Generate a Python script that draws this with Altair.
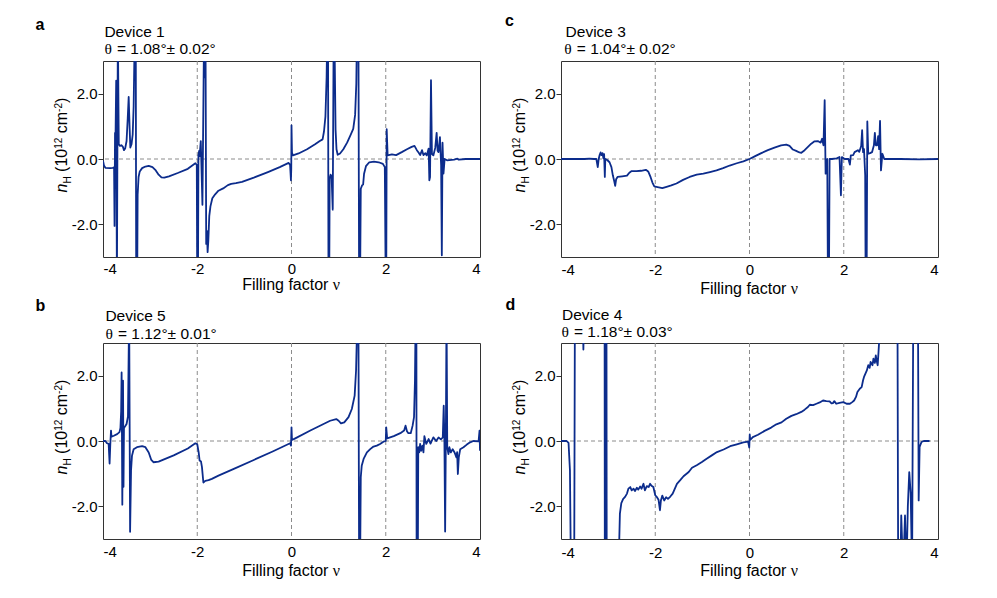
import altair as alt
import pandas as pd

# ---------------- data (filling factor v, n_H in 1e12 cm^-2) ----------------
# values beyond +/-3 run off the clipped plot area
DEVICE1 = [
    (-4.00, -0.05), (-3.98, -0.20), (-3.95, -0.27), (-3.85, -0.28), (-3.79, -0.27),
    (-3.765, -0.25), (-3.755, -2.05), (-3.745, 0.80), (-3.735, 0.55), (-3.72, 2.40),
    (-3.705, -4.0), (-3.685, 4.0), (-3.665, 0.45), (-3.64, 0.40), (-3.61, 0.42),
    (-3.58, 0.38), (-3.555, 0.27), (-3.53, 0.32), (-3.50, 0.55), (-3.475, 1.25),
    (-3.455, 1.90), (-3.435, 0.95), (-3.42, 0.35), (-3.395, 0.45), (-3.37, 0.75),
    (-3.35, 1.6), (-3.325, 4.0), (-3.305, 4.0), (-3.295, -4.0), (-3.275, -4.0),
    (-3.265, -1.10), (-3.245, -0.55), (-3.22, -0.38), (-3.17, -0.28), (-3.10, -0.23),
    (-3.03, -0.21), (-2.95, -0.25), (-2.88, -0.35), (-2.82, -0.48), (-2.76, -0.56),
    (-2.70, -0.57), (-2.60, -0.53), (-2.40, -0.42), (-2.20, -0.30), (-2.04, -0.13),
    (-2.01, -0.18), (-2.00, -4.0), (-1.985, -4.0), (-1.975, 0.10), (-1.96, 0.25),
    (-1.95, 0.08), (-1.925, 0.55), (-1.89, -1.40), (-1.855, 4.0), (-1.84, 2.5),
    (-1.825, 4.0), (-1.81, -2.60), (-1.795, -2.20), (-1.78, -2.85), (-1.765, -2.50),
    (-1.745, -1.75), (-1.72, -1.45), (-1.68, -1.20), (-1.62, -1.08), (-1.55, -0.97),
    (-1.45, -0.90), (-1.35, -0.80), (-1.28, -0.76), (-1.18, -0.74), (-1.05, -0.70),
    (-0.80, -0.57), (-0.50, -0.40), (-0.25, -0.25), (-0.06, -0.12), (-0.03, -0.18),
    (-0.012, -0.65), (-0.005, -0.30), (0.0, 1.03), (0.01, 0.20), (0.03, 0.11),
    (0.15, 0.17), (0.33, 0.30), (0.50, 0.45), (0.60, 0.55), (0.66, 0.60),
    (0.69, 0.85), (0.72, 1.30), (0.745, 2.5), (0.76, 4.0), (0.775, 4.0),
    (0.785, -4.0), (0.80, -4.0), (0.81, -0.60), (0.83, -0.48), (0.85, -0.52),
    (0.875, -1.55), (0.895, 4.0), (0.91, 4.0), (0.935, 0.9), (0.955, 0.30),
    (0.98, 0.13), (1.03, 0.17), (1.10, 0.30), (1.18, 0.50), (1.25, 0.72),
    (1.31, 0.92), (1.35, 1.35), (1.375, 2.3), (1.39, 4.0), (1.42, 4.0),
    (1.435, -4.0), (1.455, -4.0), (1.47, -0.91), (1.50, -0.80), (1.52, -0.78),
    (1.54, -0.45), (1.58, -0.22), (1.65, -0.10), (1.75, -0.08), (1.85, -0.10),
    (1.94, -0.15), (1.98, -0.25), (2.00, -4.0), (2.01, -4.0), (2.02, 0.91),
    (2.04, 0.11), (2.13, 0.14), (2.22, 0.12), (2.34, 0.21), (2.45, 0.30),
    (2.55, 0.37), (2.61, 0.40), (2.66, 0.27), (2.70, 0.19), (2.73, 0.12),
    (2.77, 0.27), (2.80, 0.12), (2.84, 0.18), (2.87, 0.11), (2.91, 0.32),
    (2.925, -0.65), (2.94, -0.55), (2.96, 2.41), (2.98, 0.15), (3.01, 0.11),
    (3.05, 0.34), (3.08, 0.80), (3.10, 0.25), (3.12, 0.21), (3.15, 0.67),
    (3.175, -0.19), (3.19, -2.95), (3.205, 0.50), (3.225, -0.45), (3.25, 0.0),
    (3.30, -0.04), (3.45, -0.02), (3.52, 0.01), (3.55, -0.02), (3.70, 0.0),
    (4.00, 0.0),
]

DEVICE3 = [
    (-4.0, 0.0), (-3.5, 0.0), (-3.40, 0.01), (-3.30, 0.0), (-3.25, 0.0),
    (-3.22, -0.25), (-3.20, 0.0), (-3.18, 0.12), (-3.16, 0.20), (-3.14, 0.12),
    (-3.12, 0.18), (-3.10, 0.02), (-3.085, 0.15), (-3.07, -0.55), (-3.06, 0.0),
    (-3.02, -0.03), (-2.97, -0.10), (-2.93, -0.25), (-2.90, -0.50), (-2.87, -0.68),
    (-2.85, -0.82), (-2.83, -0.62), (-2.80, -0.55), (-2.70, -0.53), (-2.60, -0.51),
    (-2.55, -0.42), (-2.50, -0.37), (-2.40, -0.37), (-2.30, -0.36), (-2.20, -0.33),
    (-2.15, -0.38), (-2.10, -0.55), (-2.06, -0.72), (-2.02, -0.84), (-1.95, -0.86),
    (-1.85, -0.89), (-1.76, -0.85), (-1.66, -0.81), (-1.55, -0.75), (-1.41, -0.64),
    (-1.27, -0.55), (-1.12, -0.48), (-0.98, -0.45), (-0.84, -0.40), (-0.70, -0.35),
    (-0.56, -0.28), (-0.42, -0.20), (-0.27, -0.13), (-0.13, -0.07), (0.0, 0.0),
    (0.11, 0.08), (0.25, 0.18), (0.39, 0.27), (0.53, 0.35), (0.67, 0.42),
    (0.78, 0.44), (0.85, 0.40), (0.92, 0.29), (0.99, 0.25), (1.06, 0.20),
    (1.10, 0.19), (1.17, 0.27), (1.24, 0.37), (1.31, 0.47), (1.38, 0.54),
    (1.45, 0.55), (1.51, 0.50), (1.54, 0.62), (1.57, 0.42), (1.595, 1.80),
    (1.615, -0.45), (1.63, -0.04), (1.65, 0.0), (1.665, -4.0), (1.685, -4.0),
    (1.70, 0.0), (1.75, 0.0), (1.85, 0.02), (1.91, 0.06), (1.94, -1.11),
    (1.96, 0.06), (2.02, 0.0), (2.10, 0.0), (2.13, -0.17), (2.15, 0.11),
    (2.20, 0.12), (2.23, 0.21), (2.30, 0.27), (2.33, 0.22), (2.37, 0.40),
    (2.39, 0.88), (2.41, 0.21), (2.43, 0.30), (2.455, -0.50), (2.465, -4.0),
    (2.485, -4.0), (2.50, 1.15), (2.52, 0.16), (2.56, 0.18), (2.60, 0.21),
    (2.64, 0.42), (2.66, 0.80), (2.68, 0.42), (2.71, 0.42), (2.73, 0.70),
    (2.75, 0.30), (2.77, 1.17), (2.79, -0.35), (2.82, 0.16), (2.86, 0.0),
    (3.2, 0.0), (3.6, -0.01), (4.0, 0.0),
]

DEVICE5 = [
    (-4.00, 0.0), (-3.95, 0.0), (-3.915, -0.07), (-3.88, -0.09), (-3.86, -0.69),
    (-3.845, -0.10), (-3.83, 0.32), (-3.82, 0.13), (-3.77, 0.16), (-3.70, 0.21),
    (-3.65, 0.27), (-3.63, 0.40), (-3.615, 0.9), (-3.605, 2.10), (-3.59, -1.95),
    (-3.575, 1.85), (-3.565, -1.40), (-3.555, 0.40), (-3.53, 0.45), (-3.50, 0.52),
    (-3.47, 0.75), (-3.445, 4.0), (-3.425, -2.78), (-3.405, -0.9), (-3.385, -0.45),
    (-3.35, -0.25), (-3.28, -0.19), (-3.17, -0.16), (-3.10, -0.19), (-3.03, -0.35),
    (-2.975, -0.58), (-2.93, -0.65), (-2.82, -0.63), (-2.50, -0.44), (-2.20, -0.23),
    (-2.04, -0.07), (-2.00, -0.10), (-1.97, -0.35), (-1.95, -0.60), (-1.92, -0.63),
    (-1.90, -0.80), (-1.87, -1.27), (-1.83, -1.22), (-1.76, -1.20), (-1.69, -1.16),
    (-1.55, -1.06), (-1.20, -0.84), (-0.80, -0.58), (-0.40, -0.32), (-0.03, -0.07),
    (-0.01, -0.14), (0.0, 0.42), (0.01, 0.03), (0.08, 0.08), (0.40, 0.32),
    (0.82, 0.62), (0.95, 0.67), (1.00, 0.62), (1.05, 0.54), (1.12, 0.57),
    (1.21, 0.73), (1.28, 0.98), (1.34, 1.39), (1.37, 2.16), (1.40, 4.0),
    (1.42, 4.0), (1.435, -4.0), (1.455, -4.0), (1.47, -1.11), (1.49, -0.76),
    (1.53, -0.55), (1.60, -0.35), (1.67, -0.25), (1.74, -0.17), (1.81, -0.14),
    (1.88, -0.09), (1.95, -0.02), (2.00, 0.0), (2.01, 0.42), (2.03, 0.08),
    (2.17, 0.15), (2.31, 0.24), (2.39, 0.32), (2.42, 0.47), (2.45, 0.30),
    (2.48, 0.24), (2.53, 0.24), (2.57, 0.47), (2.60, 0.73), (2.62, 1.85),
    (2.635, 4.0), (2.65, 4.0), (2.655, -4.0), (2.68, -4.0), (2.69, -0.19),
    (2.71, -0.35), (2.73, -0.09), (2.75, -0.30), (2.78, -0.14), (2.80, -0.35),
    (2.82, 0.15), (2.86, -0.09), (2.91, 0.06), (2.95, -0.08), (3.01, 0.11),
    (3.07, 0.0), (3.12, 0.11), (3.17, 0.05), (3.21, 0.11), (3.23, 1.08),
    (3.245, 0.0), (3.26, -2.77), (3.275, 0.0), (3.29, 4.0), (3.305, -0.19),
    (3.33, -0.40), (3.35, -0.19), (3.38, -0.35), (3.42, -0.25), (3.46, -0.35),
    (3.50, -0.50), (3.515, -0.34), (3.53, -1.01), (3.55, -0.50), (3.58, -0.25),
    (3.65, -0.19), (3.72, -0.11), (3.79, -0.04), (3.86, 0.0), (3.97, -0.01),
    (3.99, 0.32), (4.00, -0.30),
]

DEVICE4 = [
    (-4.00, 0.0), (-3.88, 0.0), (-3.84, -0.06), (-3.81, -0.90), (-3.79, -4.0),
    (-3.72, -4.0), (-3.705, 4.0), (-3.54, 4.0), (-3.525, 2.80), (-3.51, 4.0),
    (-3.075, 4.0), (-3.07, -4.0), (-3.065, 4.0), (-3.06, -4.0), (-3.055, 4.0),
    (-3.05, -4.0), (-3.045, 4.0), (-3.04, -4.0), (-3.035, 4.0), (-3.03, -4.0),
    (-2.78, -4.0), (-2.75, -2.22), (-2.72, -1.90), (-2.68, -1.77), (-2.64, -1.71),
    (-2.60, -1.61), (-2.57, -1.46), (-2.53, -1.41), (-2.50, -1.51), (-2.46, -1.46),
    (-2.43, -1.53), (-2.39, -1.43), (-2.36, -1.49), (-2.32, -1.39), (-2.29, -1.46),
    (-2.25, -1.31), (-2.22, -1.51), (-2.18, -1.38), (-2.14, -1.41), (-2.11, -1.31),
    (-2.08, -1.37), (-2.04, -1.41), (-2.00, -1.66), (-1.97, -1.71), (-1.93, -1.80),
    (-1.90, -2.12), (-1.88, -1.82), (-1.85, -1.67), (-1.81, -1.82), (-1.77, -1.72),
    (-1.73, -1.77), (-1.68, -1.70), (-1.63, -1.61), (-1.60, -1.51), (-1.54, -1.31),
    (-1.47, -1.20), (-1.40, -1.08), (-1.29, -0.95), (-1.22, -0.82), (-1.12, -0.74),
    (-1.01, -0.64), (-0.91, -0.54), (-0.80, -0.44), (-0.69, -0.34), (-0.55, -0.26),
    (-0.41, -0.16), (-0.27, -0.10), (-0.13, -0.04), (-0.03, -0.02), (-0.005, -0.20),
    (0.005, 0.20), (0.015, 0.03), (0.07, 0.12), (0.18, 0.19), (0.32, 0.31),
    (0.46, 0.41), (0.57, 0.51), (0.68, 0.57), (0.78, 0.68), (0.89, 0.77),
    (0.99, 0.82), (1.10, 0.89), (1.17, 0.96), (1.24, 1.04), (1.28, 1.11),
    (1.35, 1.10), (1.42, 1.14), (1.49, 1.18), (1.56, 1.24), (1.63, 1.22),
    (1.70, 1.21), (1.74, 1.15), (1.77, 1.16), (1.80, 1.22), (1.84, 1.14),
    (1.91, 1.17), (1.99, 1.19), (2.06, 1.14), (2.13, 1.14), (2.18, 1.19),
    (2.22, 1.24), (2.26, 1.35), (2.29, 1.50), (2.34, 1.60), (2.38, 1.65),
    (2.41, 1.86), (2.43, 1.96), (2.46, 2.06), (2.49, 2.16), (2.52, 2.32),
    (2.55, 2.24), (2.57, 2.42), (2.61, 2.32), (2.63, 2.52), (2.66, 2.39),
    (2.68, 2.62), (2.70, 2.45), (2.72, 2.32), (2.74, 2.78), (2.77, 3.5),
    (3.14, 4.0), (3.155, -4.0), (3.20, -4.0), (3.22, -2.28), (3.26, -4.0),
    (3.30, -2.28), (3.33, -4.0), (3.36, -2.0), (3.39, -0.95), (3.42, -1.6),
    (3.45, -4.0), (3.475, 4.0), (3.575, 4.0), (3.59, -1.82), (3.61, -0.18),
    (3.65, -0.03), (3.70, 0.0), (3.82, 0.0),
]

GUIDE_V = [-2, 0, 2]
GUIDE_N = [0]
X_TICKS = [-4, -2, 0, 2, 4]
Y_TICKS = [-2, 0, 2]

# ---------------- style ----------------
SANS = "Liberation Sans"
SERIF = "Liberation Serif"
BLUE = "#0c2c8c"
GRAY = "#8c8c8c"
W, H = 377, 196
EM = {'n': 0.556, 'H': 0.722, ' ': 0.278, '(': 0.333, ')': 0.333, '1': 0.556,
      '0': 0.556, '2': 0.556, 'c': 0.5, 'm': 0.833, '-': 0.333, 'F': 0.611,
      'i': 0.222, 'l': 0.222, 'g': 0.556, 'f': 0.278, 'a': 0.556, 't': 0.278,
      'o': 0.556, 'r': 0.333}


def tw(s, size):
    return sum(EM.get(ch, 0.556) for ch in s) * size


ONE = pd.DataFrame({"k": [0]})


def txt(text, x, y, size, font=SANS, weight="normal", style="normal", angle=0, align="left"):
    return alt.Chart(ONE).mark_text(
        text=text, font=font, fontSize=size, fontWeight=weight, fontStyle=style,
        angle=angle, align=align, baseline="alphabetic", color="black"
    ).encode(x=alt.value(x), y=alt.value(y))


def panel(pts, letter, lpos, dev, dpos, theta, tpos, xt_y, lab_pad):
    df = pd.DataFrame(pts, columns=["v", "n"])
    df["i"] = range(len(df))
    xenc = alt.X("v:Q", scale=alt.Scale(domain=[-4, 4], nice=False, zero=False),
                 axis=alt.Axis(values=X_TICKS, title=None, grid=False, domain=False,
                               ticks=False, tickSize=0, labelPadding=lab_pad,
                               labelFont=SANS, labelFontSize=15, labelColor="black",
                               labelExpr="(datum.value < 0 ? '-' : '') + format(abs(datum.value), 'd')"))
    yenc = alt.Y("n:Q", scale=alt.Scale(domain=[-3, 3], nice=False, zero=False),
                 axis=alt.Axis(values=Y_TICKS, title=None, grid=False, domain=False,
                               ticks=True, tickSize=5, tickColor="#333333", tickWidth=1,
                               labelPadding=1, labelFont=SANS, labelFontSize=15,
                               labelColor="black",
                               labelExpr="(datum.value < 0 ? '-' : '') + format(abs(datum.value), '.1f')"))
    vrule = alt.Chart(pd.DataFrame({"v": GUIDE_V})).mark_rule(
        strokeDash=[4, 3], color=GRAY, strokeWidth=1).encode(x=xenc)
    hrule = alt.Chart(pd.DataFrame({"n": GUIDE_N})).mark_rule(
        strokeDash=[4, 3], color=GRAY, strokeWidth=1).encode(y=yenc)
    line = alt.Chart(df).mark_line(clip=True, color=BLUE, strokeWidth=1.8,
                                   strokeJoin="round").encode(
        x=xenc, y=yenc, order="i:Q")
    layers = [vrule, hrule, line]
    # panel letter and titles
    layers.append(txt(letter, lpos[0], lpos[1], 16, weight="bold"))
    layers.append(txt(dev, dpos[0], dpos[1], 15.5))
    layers.append(txt("θ", tpos[0], tpos[1], 15.5, font=SERIF))
    layers.append(txt(theta, tpos[0] + 12.5, tpos[1], 15.5))
    # y-axis title: n_H (10^12 cm^-2), rotated; leading blanks are advanced by hand
    bx, yy = -36, 131.5
    pieces = [("n", 16, 0, "italic"), ("H", 10, 3.5, "normal"), (" (10", 16, 0, "normal"),
              ("12", 10, -4.8, "normal"), (" cm", 16, 0, "normal"), ("-2", 10, -4.8, "normal"),
              (")", 16, 0, "normal")]
    for s, sz, sh, st in pieces:
        lead = len(s) - len(s.lstrip(" "))
        yy -= tw(" " * lead, sz)
        core = s.lstrip(" ")
        layers.append(txt(core, bx + sh, yy, sz, style=st, angle=270))
        yy -= tw(core, sz)
    # x-axis title
    w1 = tw("Filling factor ", 16)
    total = w1 + 8
    x0 = W / 2 - total / 2
    layers.append(txt("Filling factor", x0, xt_y, 16))
    layers.append(txt("ν", x0 + w1, xt_y, 16, font=SERIF))
    return alt.layer(*layers).properties(width=W, height=H)


pa = panel(DEVICE1, "a", (-67.6, -31), "Device 1", (1.4, -23.7), "= 1.08°± 0.02°", (1.4, -6.8), 228.5, 4.3)
pc = panel(DEVICE3, "c", (-56, -35), "Device 3", (4.6, -23.7), "= 1.04°± 0.02°", (3.3, -6.8), 233, 5.2)
pb = panel(DEVICE5, "b", (-67.6, -32), "Device 5", (2.4, -22), "= 1.12°± 0.01°", (2.4, -4.4), 233, 5.6)
pd_ = panel(DEVICE4, "d", (-55.6, -32.7), "Device 4", (1, -23.4), "= 1.18°± 0.03°", (0.4, -6), 233.3, 6.3)

chart = alt.concat(
    pa, pc, pb, pd_, columns=2,
    spacing={"row": 86, "column": 81}, bounds="flush"
).properties(
    padding={"left": 26, "top": 4, "right": 5, "bottom": 5},
    background="white"
).configure_view(stroke="#333333", strokeWidth=1)

chart.save("out.html", embed_options={"renderer": "svg", "actions": False})
